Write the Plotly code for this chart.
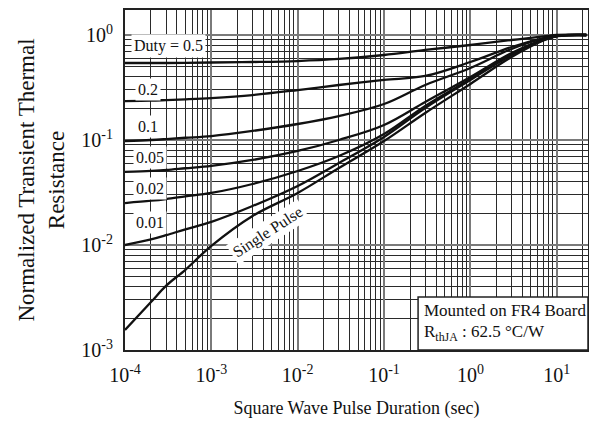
import plotly.graph_objects as go

# ---- data ----
pulse_duration = [1e-4, 2e-4, 3e-4, 5e-4, 1e-3, 3e-3, 1e-2, 3e-2, 0.1, 0.3, 1, 3, 7, 10, 22]

duty_05 = [0.541, 0.541, 0.541, 0.543, 0.547, 0.553, 0.565, 0.591, 0.645, 0.720, 0.803, 0.896, 0.968, 1.0, 1.0]
duty_02 = [0.235, 0.237, 0.240, 0.244, 0.251, 0.268, 0.299, 0.334, 0.373, 0.407, 0.553, 0.769, 0.936, 0.989, 1.0]
duty_01 = [0.0978, 0.100, 0.102, 0.105, 0.109, 0.122, 0.142, 0.169, 0.220, 0.334, 0.485, 0.736, 0.926, 0.978, 1.0]
duty_005 = [0.0496, 0.0508, 0.0518, 0.0538, 0.0566, 0.0645, 0.0786, 0.100, 0.139, 0.230, 0.398, 0.674, 0.906, 0.978, 1.0]
duty_002 = [0.0251, 0.0264, 0.0274, 0.0290, 0.0313, 0.0381, 0.0507, 0.0704, 0.114, 0.211, 0.381, 0.659, 0.896, 0.978, 1.0]
duty_001 = [0.0100, 0.0113, 0.0124, 0.0141, 0.0166, 0.0235, 0.0365, 0.0604, 0.107, 0.202, 0.373, 0.645, 0.896, 0.978, 1.0]
single_pulse = [0.00155, 0.00286, 0.0041, 0.0058, 0.0098, 0.0189, 0.0313, 0.0541, 0.0978, 0.181, 0.342, 0.617, 0.886, 0.978, 1.0]

series_names = ["Duty = 0.5", "0.2", "0.1", "0.05", "0.02", "0.01", "Single Pulse"]
series_values = [duty_05, duty_02, duty_01, duty_005, duty_002, duty_001, single_pulse]

x_tick_vals = [1e-4, 1e-3, 1e-2, 1e-1, 1, 10]
x_tick_text = ["10<sup>-4</sup>", "10<sup>-3</sup>", "10<sup>-2</sup>", "10<sup>-1</sup>",
               "10<sup>0</sup>", "10<sup>1</sup>"]
y_tick_vals = [1e-3, 1e-2, 1e-1, 1]
y_tick_text = ["10<sup>-3</sup>", "10<sup>-2</sup>", "10<sup>-1</sup>", "10<sup>0</sup>"]

FONT = "Liberation Serif"

fig = go.Figure()
for name, vals in zip(series_names, series_values):
    fig.add_trace(go.Scatter(
        x=pulse_duration, y=vals, mode="lines", name=name,
        line=dict(color="#111111", width=2.3, shape="spline", smoothing=1.0),
        showlegend=False, hoverinfo="skip"))

axis_common = dict(
    type="log", showline=True, mirror=True, linecolor="#222222", linewidth=2,
    ticks="", showgrid=True, gridcolor="#7a7a7a", gridwidth=1.6,
    tickfont=dict(family=FONT, size=20, color="#111111"),
    minor=dict(dtick="D1", showgrid=True, gridcolor="#2a2a2a", gridwidth=0.9, ticks=""),
    zeroline=False, automargin=False,
)

fig.update_xaxes(
    **axis_common, range=[-4, 1.362],
    tickmode="array", tickvals=x_tick_vals, ticktext=x_tick_text,
    ticklabelstandoff=6,
    title=dict(text="Square Wave Pulse Duration (sec)",
               font=dict(family=FONT, size=18, color="#111111"), standoff=16),
)
fig.update_yaxes(
    **axis_common, range=[-3, 0.238],
    tickmode="array", tickvals=y_tick_vals, ticktext=y_tick_text,
    ticklabelstandoff=6,
    title=dict(text="Normalized Transient Thermal<br>Resistance",
               font=dict(family=FONT, size=23, color="#111111"), standoff=10),
)

label_font = dict(family=FONT, size=16, color="#111111")
# (text, left edge in x-domain, centre in y-domain)
labels = [
    ("Duty = 0.5", 0.012, 0.894),
    ("0.2", 0.022, 0.765),
    ("0.1", 0.022, 0.656),
    ("0.05", 0.018, 0.565),
    ("0.02", 0.018, 0.476),
    ("0.01", 0.018, 0.376),
]
for text, xd, yd in labels:
    fig.add_annotation(text=text, xref="x domain", yref="y domain", x=xd, y=yd,
                       xanchor="left", yanchor="middle",
                       showarrow=False, font=label_font, bgcolor="white", borderpad=2)
fig.add_annotation(text="Single Pulse", xref="x domain", yref="y domain", x=0.309, y=0.347,
                   xanchor="center", yanchor="middle", textangle=-33,
                   showarrow=False, font=label_font, bgcolor="white", borderpad=2)

# info box (bottom right)
box_font = dict(family=FONT, size=17, color="#111111")
fig.add_shape(type="rect", xref="x domain", yref="y domain",
              x0=0.633, x1=1.0, y0=0.0, y1=0.156,
              fillcolor="white", line=dict(color="#222222", width=1.5), layer="above")
fig.add_annotation(text="Mounted on FR4 Board", xref="x domain", yref="y domain",
                   x=0.642, y=0.115, xanchor="left", yanchor="middle",
                   showarrow=False, font=box_font)
fig.add_annotation(text="R<sub>thJA</sub> : 62.5 °C/W", xref="x domain", yref="y domain",
                   x=0.642, y=0.05, xanchor="left", yanchor="middle",
                   showarrow=False, font=box_font)

# the page adds an 8 px body margin; the figure is sized to compensate
fig.update_layout(
    width=589, height=426,
    margin=dict(l=117, r=9, t=2, b=84),
    paper_bgcolor="white", plot_bgcolor="white",
    font=dict(family=FONT, color="#111111"),
)

fig.write_html("out.html")
